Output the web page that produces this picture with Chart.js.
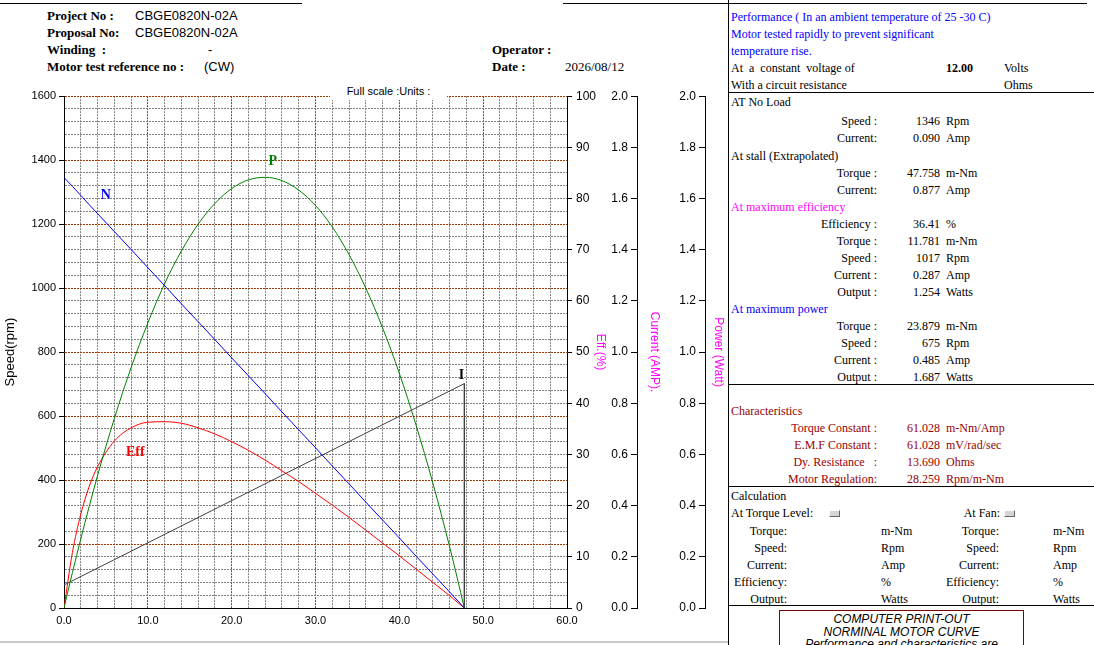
<!DOCTYPE html>
<html>
<head>
<meta charset="utf-8">
<title>Motor curve</title>
<script src="https://cdn.jsdelivr.net/npm/chart.js@4.4.0/dist/chart.umd.min.js"></script>
<style>
  html, body { margin: 0; padding: 0; background: #fff; }
  #page { position: relative; width: 1094px; height: 645px; overflow: hidden;
          font-family: "Liberation Serif", "Times New Roman", serif; font-size: 12px; color: #000; }
  #page .t { position: absolute; white-space: pre; line-height: 14px; }
  .hl { position: absolute; height: 1px; background: #000; }
  .vl { position: absolute; width: 1px; background: #000; }
  #chart { position: absolute; left: 0; top: 85px; }
  #fullscale { position: absolute; left: 330px; top: 84px; width: 117px; height: 16px; background: #fff;
               font: 11px "Liberation Sans", Arial, sans-serif; text-align: center; line-height: 14px; }
  .btn { position: absolute; width: 9px; height: 5px; background: #d4d4d4; border: 1px solid #fff;
         border-right-color: #666; border-bottom-color: #666; }
  #note { position: absolute; left: 779px; top: 610px; width: 243px; height: 45px; border: 1px solid #800000;
          font: italic 12px "Liberation Sans", Arial, sans-serif; text-align: center; line-height: 12.5px; padding-top: 2px; }
</style>
</head>
<body>
<div id="page">
  <canvas id="chart" width="728" height="545"></canvas>
  <div id="fullscale">Full scale :Units :</div>
  <div id="note">COMPUTER PRINT-OUT<br>NORMINAL MOTOR CURVE<br>Performance and characteristics are</div>
</div>
<script>
// torque (m-Nm) sample points
const torque   = [0, 1, 2, 3, 4, 6, 8, 10, 12, 14, 16, 18, 20, 22, 24, 26, 28, 30, 32, 34, 36, 38, 40, 42, 44, 46, 47.758];
const speedRpm = [1346, 1318, 1290, 1261, 1233, 1177, 1121, 1064, 1008, 951, 895, 839, 782, 726, 670, 613, 557, 501, 444, 388, 331, 275, 219, 162, 106, 50, 0];
const powerW   = [0, 0.138, 0.270, 0.396, 0.517, 0.740, 0.939, 1.114, 1.267, 1.395, 1.500, 1.581, 1.639, 1.673, 1.683, 1.670, 1.633, 1.573, 1.489, 1.381, 1.250, 1.095, 0.917, 0.714, 0.488, 0.239, 0];
const effPct   = [0, 10.8, 18.3, 23.7, 27.6, 32.6, 35.2, 36.3, 36.4, 36.1, 35.2, 34.0, 32.5, 30.8, 28.9, 26.8, 24.7, 22.4, 20.1, 17.7, 15.2, 12.7, 10.2, 7.6, 5.0, 2.4, 0];
const currentTorque = [0, 47.758, 47.758];
const currentAmp    = [0.090, 0.877, 0];

const curveLabels = ['N', 'P', 'Eff', 'I'];
const labelAt = [[5.0, 1290], [24.9, 1396], [8.5, 488], [47.4, 726]];
const labelColors = ['#0000ff', '#008000', '#ff0000', '#000000'];

const BROWN = 'rgb(160,60,0)';
const GREY = '#808080';

function pts(xs, ys) { return xs.map((v, i) => ({ x: v, y: ys[i] })); }

const page = document.getElementById('page');
function put(text, x, y, o) {
  o = o || {};
  const d = document.createElement('div');
  d.className = 't';
  d.textContent = text;
  d.style.top = (y - 7) + 'px';
  if (o.right) d.style.right = (1094 - x) + 'px'; else d.style.left = x + 'px';
  if (o.color) d.style.color = o.color;
  if (o.bold) d.style.fontWeight = 'bold';
  if (o.sans) d.style.fontFamily = '"Liberation Sans", Arial, sans-serif';
  if (o.size) d.style.fontSize = o.size + 'px';
  page.appendChild(d);
}
function line(cls, x, y, len) {
  const d = document.createElement('div');
  d.className = cls;
  d.style.left = x + 'px'; d.style.top = y + 'px';
  if (cls === 'hl') d.style.width = len + 'px'; else d.style.height = len + 'px';
  page.appendChild(d);
}
function btn(x, y) {
  const d = document.createElement('div');
  d.className = 'btn'; d.style.left = x + 'px'; d.style.top = y + 'px';
  page.appendChild(d);
}

// header block
line('hl', 0, 3, 302);
line('hl', 563, 3, 524);
line('vl', 728, 0, 645);
put('Project No :', 47, 16, { bold: true, size: 13 });
put('CBGE0820N-02A', 135, 16, { sans: true, size: 13 });
put('Proposal No:', 47, 33, { bold: true, size: 13 });
put('CBGE0820N-02A', 135, 33, { sans: true, size: 13 });
put('Winding  :', 47, 50, { bold: true, size: 13 });
put('-', 208, 50, { sans: true, size: 13 });
put('Motor test reference no :', 47, 67, { bold: true, size: 13 });
put('(CW)', 204, 67, { sans: true, size: 13 });
put('Operator :', 492, 50, { bold: true, size: 13 });
put('Date :', 492, 67, { bold: true, size: 13 });
put('2026/08/12', 565, 67, { size: 13 });

// right-hand panel
const BLUE = '#0000ff', MAG = '#ff00ff', DRED = '#990000';
put('Performance ( In an ambient temperature of 25 -30 C)', 731, 17, { color: BLUE });
put('Motor tested rapidly to prevent significant', 731, 34, { color: BLUE });
put('temperature rise.', 731, 51, { color: BLUE });
put('At  a  constant  voltage of', 731, 68);
put('12.00', 973, 68, { right: true, bold: true });
put('Volts', 1004, 68);
put('With a circuit resistance', 731, 85);
put('Ohms', 1004, 85);
line('hl', 728, 92, 366);

function rows(list, color) {
  list.forEach(r => {
    put(r[0], 877, r[3], { right: true, color: color });
    put(r[1], 940, r[3], { right: true, color: color });
    put(r[2], 946, r[3], { color: color });
  });
}
put('AT No Load', 731, 102);
rows([['Speed :', '1346', 'Rpm', 121], ['Current:', '0.090', 'Amp', 138]]);
put('At stall (Extrapolated)', 731, 156);
rows([['Torque :', '47.758', 'm-Nm', 173], ['Current:', '0.877', 'Amp', 190]]);
put('At maximum efficiency', 731, 207, { color: MAG });
rows([['Efficiency :', '36.41', '%', 224], ['Torque :', '11.781', 'm-Nm', 241], ['Speed :', '1017', 'Rpm', 258],
      ['Current :', '0.287', 'Amp', 275], ['Output :', '1.254', 'Watts', 292]]);
put('At maximum power', 731, 309, { color: BLUE });
rows([['Torque :', '23.879', 'm-Nm', 326], ['Speed :', '675', 'Rpm', 343], ['Current :', '0.485', 'Amp', 360],
      ['Output :', '1.687', 'Watts', 377]]);
line('hl', 728, 384, 366);
put('Characteristics', 731, 411, { color: DRED });
rows([['Torque Constant :', '61.028', 'm-Nm/Amp', 428], ['E.M.F Constant :', '61.028', 'mV/rad/sec', 445],
      ['Dy. Resistance   :', '13.690', 'Ohms', 462], ['Motor Regulation:', '28.259', 'Rpm/m-Nm', 479]], DRED);
line('hl', 728, 486, 366);
put('Calculation', 731, 496);
put('At Torque Level:', 731, 513);
btn(829, 510);
put('At Fan:', 1000, 513, { right: true });
btn(1004, 510);
[['Torque:', 'm-Nm'], ['Speed:', 'Rpm'], ['Current:', 'Amp'], ['Efficiency:', '%'], ['Output:', 'Watts']].forEach((r, i) => {
  const y = 531 + i * 17;
  put(r[0], 787, y, { right: true });
  put(r[1], 881, y);
  put(r[0], 999, y, { right: true });
  put(r[1], 1053, y);
});
line('hl', 728, 605, 366);
const foot = document.createElement('div');
foot.style.cssText = 'position:absolute;left:0;top:641px;width:728px;height:2px;background:#c8c8c8;';
page.appendChild(foot);

// chart
Chart.defaults.font.family = '"Liberation Sans", Arial, sans-serif';
Chart.defaults.font.size = 11;
Chart.defaults.color = '#000';

const curveLabelPlugin = {
  id: 'curveLabels',
  afterDatasetsDraw(chart) {
    const { ctx, scales: { x, y } } = chart;
    ctx.save();
    ctx.font = 'bold 14px "Liberation Serif", "Times New Roman", serif';
    ctx.textAlign = 'center';
    ctx.textBaseline = 'middle';
    curveLabels.forEach((t, i) => {
      ctx.fillStyle = labelColors[i];
      ctx.fillText(t, x.getPixelForValue(labelAt[i][0]), y.getPixelForValue(labelAt[i][1]));
    });
    ctx.restore();
  }
};

function sideAxis(opts) {
  return Object.assign({
    position: 'right',
    afterFit(s) { s.width = opts.w; },
    ticks: { stepSize: opts.step, autoSkip: false, mirror: opts.mirror, padding: opts.pad, font: { size: 12 },
             callback: opts.fmt },
    grid: { drawOnChartArea: false, color: '#000', tickColor: '#000', tickLength: opts.tl },
    border: { color: '#000', width: 1 },
    title: { display: true, text: opts.title, color: '#ff00ff', font: { size: 12 }, padding: { top: opts.tp, bottom: 0 } }
  }, { min: 0, max: opts.max, weight: opts.weight });
}

new Chart(document.getElementById('chart'), {
  type: 'line',
  data: {
    datasets: [
      { label: 'N', data: pts(torque, speedRpm), yAxisID: 'y', borderColor: '#0000ff' },
      { label: 'P', data: pts(torque, powerW), yAxisID: 'yP', borderColor: '#008000', cubicInterpolationMode: 'monotone' },
      { label: 'Eff', data: pts(torque, effPct), yAxisID: 'yE', borderColor: '#ff0000', cubicInterpolationMode: 'monotone' },
      { label: 'I', data: pts(currentTorque, currentAmp), yAxisID: 'yI', borderColor: '#404040' }
    ]
  },
  options: {
    responsive: false,
    animation: false,
    devicePixelRatio: 1,
    layout: { padding: { top: 8, left: 0, right: 0, bottom: 0 } },
    elements: { point: { radius: 0 }, line: { borderWidth: 1, fill: false } },
    plugins: { legend: { display: false }, tooltip: { enabled: false } },
    scales: {
      x: {
        type: 'linear', min: 0, max: 60,
        afterFit(s) { s.height = 22; },
        ticks: { stepSize: 2, autoSkip: false, maxRotation: 0, padding: 6,
                 callback: v => (v % 10 === 0 ? v.toFixed(1) : '') },
        grid: { drawTicks: false, color: c => (c.tick.value === 0 || c.tick.value === 60 ? 'transparent' : (c.tick.value % 10 === 0 ? BROWN : GREY)) },
        border: { color: '#000', width: 1, dash: [2, 1] }
      },
      y: {
        position: 'left', min: 0, max: 1600,
        afterFit(s) { s.width = 64; },
        ticks: { stepSize: 40, autoSkip: false, padding: 3,
                 callback: v => (v % 200 === 0 ? v : '') },
        grid: { tickLength: 5,
                color: c => (c.tick.value === 0 ? 'transparent' : (c.tick.value % 200 === 0 ? BROWN : GREY)),
                tickColor: c => (c.tick.value % 200 === 0 ? '#000' : 'transparent') },
        border: { color: '#000', width: 1, dash: [2, 1] },
        title: { display: true, text: 'Speed(rpm)', font: { size: 13 }, padding: { top: 3, bottom: 0 } }
      },
      yE: sideAxis({ w: 70, weight: 0, max: 100, step: 10, mirror: false, pad: 4, tl: 5, tp: 29,
                     title: 'Eff.(%)', fmt: v => v }),
      yI: sideAxis({ w: 68, weight: 1, max: 2, step: 0.2, mirror: true, pad: -9, tl: -6, tp: 43,
                     title: 'Current (AMP).', fmt: v => v.toFixed(1) }),
      yP: sideAxis({ w: 23, weight: 2, max: 2, step: 0.2, mirror: true, pad: -9, tl: -6, tp: 2,
                     title: 'Power (Watt)', fmt: v => v.toFixed(1) })
    }
  },
  plugins: [curveLabelPlugin]
});
</script>
</body>
</html>
